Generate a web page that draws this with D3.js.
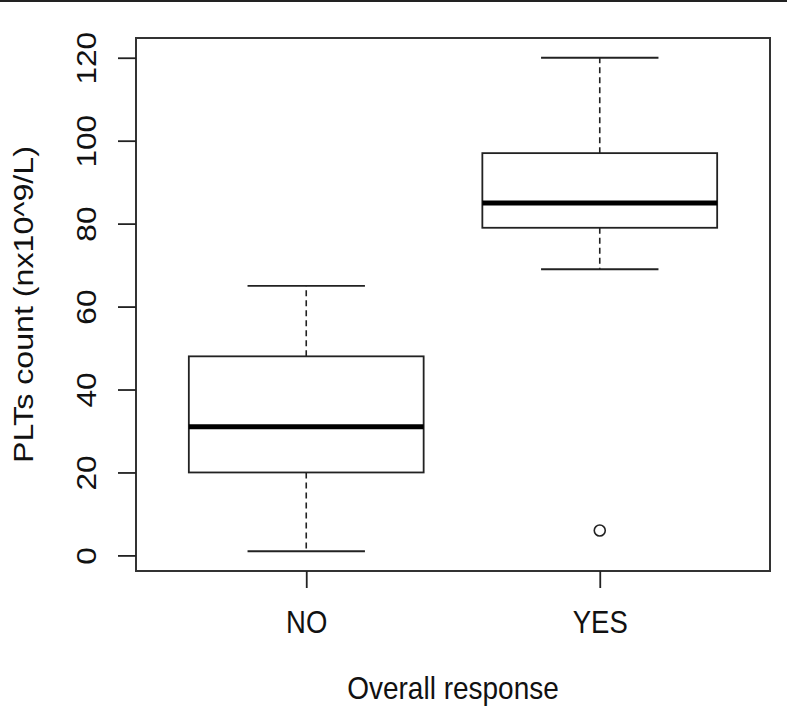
<!DOCTYPE html>
<html>
<head>
<meta charset="utf-8">
<script src="https://cdn.jsdelivr.net/npm/d3@7"></script>
<style>
  html, body { margin: 0; padding: 0; background: #fff; }
  svg { display: block; }
  text { font-family: "Liberation Sans", Arial, Helvetica, sans-serif; fill: #111; }
</style>
</head>
<body>
<svg id="chart" width="787" height="719"></svg>
<script>
// ---- data ----
const categories = ["NO", "YES"];
const whiskerLow  = [1, 69];
const q1          = [20, 79];
const median      = [31, 85];
const q3          = [48, 97];
const whiskerHigh = [65, 120];
const outliers    = [[], [6]];
const yTicks      = [0, 20, 40, 60, 80, 100, 120];
const xTitle = "Overall response";
const yTitle = "PLTs count (nx10^9/L)";

// ---- layout ----
const W = 787, H = 719;
const plot = { left: 136, right: 770, top: 38, bottom: 571 };
const svg = d3.select("#chart");
const ink = "#222";
const FS = 27.5, STRETCH = 1.15;

// top rule line
svg.append("line").attr("x1", 0).attr("x2", W).attr("y1", 1).attr("y2", 1)
  .attr("stroke", "#222").attr("stroke-width", 2);

const x = d3.scaleLinear().domain([0.42, 2.58]).range([plot.left, plot.right]);
const y = d3.scaleLinear().domain([-3.76, 124.76]).range([plot.bottom, plot.top]);
const boxHalf = 0.4, capHalf = 0.2;

const g = svg.append("g");
categories.forEach((c, i) => {
  const cx = i + 1;
  const grp = g.append("g");
  grp.append("line").attr("x1", x(cx)).attr("x2", x(cx))
    .attr("y1", y(q3[i])).attr("y2", y(whiskerHigh[i]))
    .attr("stroke", ink).attr("stroke-width", 1.6).attr("stroke-dasharray", "6,4");
  grp.append("line").attr("x1", x(cx)).attr("x2", x(cx))
    .attr("y1", y(q1[i])).attr("y2", y(whiskerLow[i]))
    .attr("stroke", ink).attr("stroke-width", 1.6).attr("stroke-dasharray", "6,4");
  [whiskerHigh[i], whiskerLow[i]].forEach(v => {
    grp.append("line").attr("x1", x(cx - capHalf)).attr("x2", x(cx + capHalf))
      .attr("y1", y(v)).attr("y2", y(v)).attr("stroke", ink).attr("stroke-width", 1.8);
  });
  grp.append("rect").attr("x", x(cx - boxHalf)).attr("y", y(q3[i]))
    .attr("width", x(cx + boxHalf) - x(cx - boxHalf)).attr("height", y(q1[i]) - y(q3[i]))
    .attr("fill", "#fff").attr("stroke", ink).attr("stroke-width", 1.8);
  grp.append("line").attr("x1", x(cx - boxHalf)).attr("x2", x(cx + boxHalf))
    .attr("y1", y(median[i])).attr("y2", y(median[i]))
    .attr("stroke", "#000").attr("stroke-width", 5);
  outliers[i].forEach(v => {
    grp.append("circle").attr("cx", x(cx)).attr("cy", y(v)).attr("r", 5.5)
      .attr("fill", "none").attr("stroke", ink).attr("stroke-width", 1.6);
  });
});

// frame
svg.append("rect").attr("x", plot.left).attr("y", plot.top)
  .attr("width", plot.right - plot.left).attr("height", plot.bottom - plot.top)
  .attr("fill", "none").attr("stroke", "#333").attr("stroke-width", 2);

// y axis
const yAxis = svg.append("g").attr("transform", `translate(${plot.left},0)`)
  .call(d3.axisLeft(y).tickValues(yTicks).tickSize(18).tickFormat(d3.format("d")));
yAxis.select(".domain").remove();
yAxis.selectAll(".tick line").attr("stroke", ink).attr("stroke-width", 1.8);
yAxis.selectAll(".tick text")
  .attr("transform", `translate(-40,0) scale(1,${STRETCH}) rotate(-90)`)
  .attr("x", 0).attr("y", 0).attr("dy", 0)
  .attr("text-anchor", "middle")
  .style("font-size", FS + "px").attr("fill", "#111");

// x axis
const xAxis = svg.append("g").attr("transform", `translate(0,${plot.bottom})`)
  .call(d3.axisBottom(x).tickValues([1, 2]).tickSize(17).tickFormat((d) => categories[d - 1]));
xAxis.select(".domain").remove();
xAxis.selectAll(".tick line").attr("stroke", ink).attr("stroke-width", 1.8);
xAxis.selectAll(".tick text")
  .attr("transform", `translate(0,62) scale(1,${STRETCH})`)
  .attr("y", 0).attr("dy", 0)
  .style("font-size", FS + "px").attr("fill", "#111");

// titles
svg.append("text")
  .attr("transform", `translate(${(plot.left + plot.right) / 2},699) scale(1,${STRETCH})`)
  .attr("text-anchor", "middle").style("font-size", "28px").text(xTitle);
svg.append("text")
  .attr("transform", `translate(33,${(plot.top + plot.bottom) / 2}) scale(1,${STRETCH}) rotate(-90)`)
  .attr("text-anchor", "middle").style("font-size", "28px").text(yTitle);
</script>
</body>
</html>
